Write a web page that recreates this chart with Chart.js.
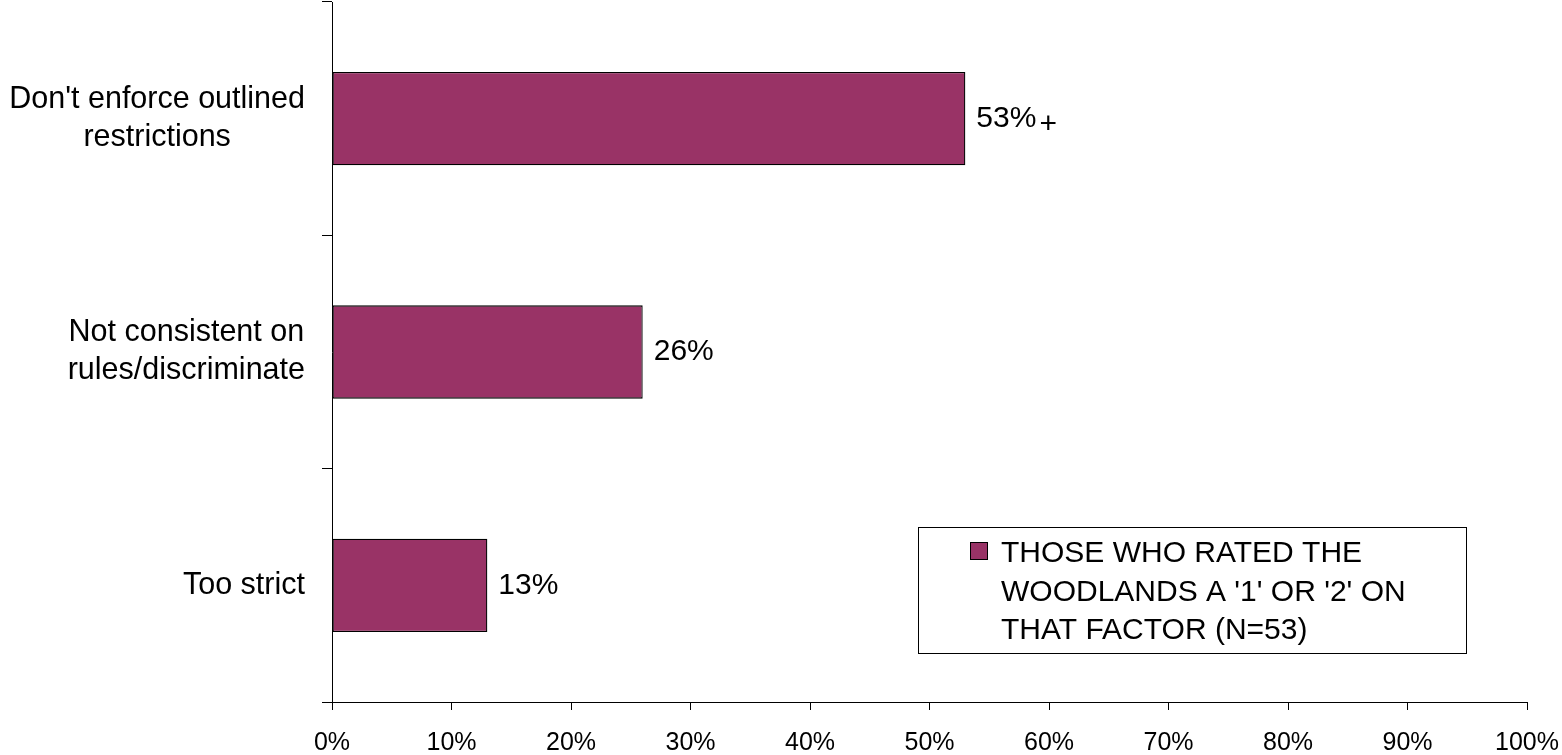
<!DOCTYPE html>
<html>
<head>
<meta charset="utf-8">
<script src="https://cdn.jsdelivr.net/npm/chart.js@4.4.1/dist/chart.umd.min.js"></script>
<style>
html,body{margin:0;padding:0;background:#fff;}
canvas{display:block;}
</style>
</head>
<body>
<canvas id="c" width="1562" height="755"></canvas>
<script>
const categories = [
  ["Don't enforce outlined", "restrictions"],
  ["Not consistent on", "rules/discriminate"],
  ["Too strict"]
];
const values = [53, 26, 13];
const valueSuffix = ["+", "", ""];
const seriesName = ["THOSE WHO RATED THE", "WOODLANDS A '1' OR '2' ON", "THAT FACTOR (N=53)"];
const xTicks = [0, 10, 20, 30, 40, 50, 60, 70, 80, 90, 100];

const FONT = '"Liberation Sans", Arial, sans-serif';
const BAR = '#993366';

const customDraw = {
  id: 'customDraw',
  afterDatasetsDraw(chart) {
    const ctx = chart.ctx;
    const xs = chart.scales.x, ys = chart.scales.y;
    ctx.save();
    ctx.fillStyle = '#000';
    ctx.font = '30px ' + FONT;
    ctx.textBaseline = 'middle';
    ctx.textAlign = 'left';
    values.forEach((v, i) => {
      const x = xs.getPixelForValue(v) + 11;
      const y = ys.getPixelForValue(i);
      const t = v + '%';
      ctx.fillText(t, x, y);
      if (valueSuffix[i]) {
        const w = ctx.measureText(t).width;
        ctx.fillText(valueSuffix[i], x + w + 3, y + 6);
      }
    });
    ctx.restore();
  },
  afterDraw(chart) {
    const ctx = chart.ctx;
    const ys = chart.scales.y;
    ctx.save();
    ctx.fillStyle = '#000';
    ctx.font = '30.5px ' + FONT;
    ctx.textBaseline = 'middle';
    ctx.textAlign = 'center';
    const right = chart.chartArea.left - 27;
    const lh = 38;
    categories.forEach((lines, i) => {
      const cy = ys.getPixelForValue(i);
      const w = Math.max(...lines.map(l => ctx.measureText(l).width));
      const cx = right - w / 2;
      lines.forEach((l, j) => {
        ctx.fillText(l, cx, cy + (j - (lines.length - 1) / 2) * lh);
      });
    });
    // legend box
    ctx.font = '30px ' + FONT;
    const bx = 918.5, by = 527.5, bw = 548, bh = 126;
    ctx.fillStyle = '#fff';
    ctx.fillRect(bx, by, bw, bh);
    ctx.strokeStyle = '#000';
    ctx.lineWidth = 1;
    ctx.strokeRect(bx, by, bw, bh);
    ctx.fillStyle = BAR;
    ctx.fillRect(970.5, 542.5, 17, 17);
    ctx.strokeRect(970.5, 542.5, 17, 17);
    ctx.fillStyle = '#000';
    ctx.textAlign = 'left';
    ctx.textBaseline = 'alphabetic';
    seriesName.forEach((l, j) => {
      ctx.fillText(l, 1001, 562 + j * 38.5);
    });
    ctx.restore();
  }
};

new Chart(document.getElementById('c'), {
  type: 'bar',
  data: {
    labels: categories,
    datasets: [{
      label: seriesName.join(' '),
      data: values,
      backgroundColor: BAR,
      borderColor: '#000',
      borderWidth: 1.3,
      borderSkipped: false,
      categoryPercentage: 1.0,
      barPercentage: 0.4
    }]
  },
  options: {
    indexAxis: 'y',
    responsive: false,
    animation: false,
    layout: { padding: { top: 2, right: 35, bottom: 0, left: 0 } },
    plugins: { legend: { display: false }, tooltip: { enabled: false } },
    scales: {
      x: {
        min: 0, max: 100,
        afterFit(s) { s.height = 53; s.paddingLeft = 0; s.paddingRight = 0; },
        afterBuildTicks(s) { s.ticks = xTicks.map(v => ({ value: v })); },
        ticks: {
          callback: v => v + '%',
          color: '#000',
          font: { family: FONT, size: 25, lineHeight: 1 },
          padding: 21,
          maxRotation: 0,
          autoSkip: false
        },
        grid: { drawOnChartArea: false, drawTicks: true, tickLength: 8, color: '#000', lineWidth: 1 },
        border: { display: true, color: '#000', width: 1 }
      },
      y: {
        afterFit(s) { s.width = 332; s.paddingTop = 0; s.paddingBottom = 0; },
        ticks: { display: false },
        grid: { offset: true, drawOnChartArea: false, drawTicks: true, tickLength: 10, color: '#000', lineWidth: 1 },
        border: { display: true, color: '#000', width: 1 }
      }
    }
  },
  plugins: [customDraw]
});
</script>
</body>
</html>
